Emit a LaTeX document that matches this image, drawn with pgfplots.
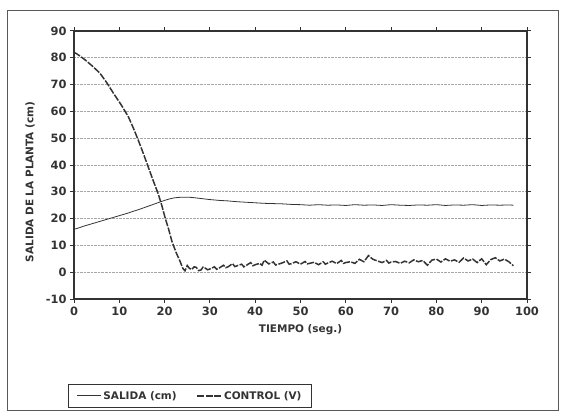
\documentclass[border=0pt]{standalone}
\usepackage{fontspec}
\setmainfont{DejaVu Sans}
\usepackage{pgfplots}
\pgfplotsset{compat=1.18}

\definecolor{ink}{HTML}{333333}

\pgfplotstableread{
t y
0 16.0
1 16.5
2 17.1
3 17.6
4 18.1
5 18.6
6 19.1
7 19.6
8 20.1
9 20.6
10 21.1
11 21.6
12 22.1
13 22.7
14 23.2
15 23.8
16 24.4
17 25.0
18 25.6
19 26.2
20 26.8
21 27.3
22 27.7
23 27.9
24 28.0
25 28.0
26 27.9
27 27.7
28 27.5
29 27.3
30 27.1
32 26.8
34 26.6
36 26.3
38 26.1
40 25.9
42 25.7
44 25.6
46 25.5
48 25.3
50 25.2
52 25.0
54 25.2
56 25.0
58 25.1
60 24.9
62 25.2
64 25.0
66 25.1
68 24.9
70 25.2
72 25.0
74 24.9
76 25.1
78 25.0
80 25.2
82 24.9
84 25.1
86 25.0
88 25.2
90 24.9
92 25.1
94 25.0
96 25.1
97 25.0
}\salida

\pgfplotstableread{
t y
0 82.0
0.5 81.6
1.2 80.8
2.4 79.3
4 77.0
5.7 74.3
7.2 70.8
8.7 66.8
10.4 62.5
12 58.0
13.1 53.8
14.2 49.2
15.3 44.3
16.4 39.2
17.5 34.1
18.6 29.2
19.4 24.8
20.1 20.4
20.9 16.0
21.6 11.6
22.5 7.5
23.4 4.1
24 1.5
24.5 0.5
25 2.5
25.5 1.4
26 1.0
26.5 2.0
27 1.8
27.5 0.6
28 0.8
28.5 1.9
29 1.5
29.5 0.9
30 1.2
31 2.0
31.5 1.1
32 1.5
33 2.6
33.5 1.7
34 2.0
35 3.2
35.5 2.1
36 2.4
37 3.0
37.5 2.0
38 2.5
39 3.6
39.5 2.4
40 2.8
41 3.3
41.5 2.6
42 4.5
43 3.1
44 3.8
44.5 2.7
45 2.9
46 3.5
47 4.2
47.5 3.0
48 3.2
49 3.9
50 3.0
51 4.0
51.5 3.1
52 3.3
53 3.7
54 2.8
55 3.9
55.5 3.0
56 3.4
57 4.1
58 3.2
59 4.4
59.5 3.3
60 3.6
61 3.9
62 3.3
63 4.8
64 3.9
65 6.2
66 4.8
67 4.2
68 3.6
69 4.4
69.5 3.4
70 3.8
71 4.0
72 3.3
73 4.1
74 3.5
75 4.6
76 3.9
77 4.4
78 2.6
79 4.5
80 4.9
81 3.8
82 5.0
83 4.1
84 4.6
85 3.7
86 5.3
87 4.2
88 4.9
89 3.6
90 5.0
91 2.8
92 4.7
93 5.4
94 4.2
95 4.9
96 3.9
97 2.4
}\control

\begin{document}
\begin{tikzpicture}
\useasboundingbox (0,0) rectangle (567bp,-412bp);
\draw[gray!70!black, line width=0.9pt] (7bp,-10bp) rectangle (558bp,-410bp);
\begin{axis}[
  at={(74bp,-299bp)}, anchor=south west,
  scale only axis, width=453bp, height=268bp,
  xmin=0, xmax=100, ymin=-10, ymax=90,
  xtick={0,10,...,100}, ytick={-10,0,...,90},
  tick align=outside, major tick length=4bp,
  tick style={ink, line width=1pt},
  axis line style={ink, line width=1.3pt},
  ymajorgrids, grid style={densely dotted, gray!70, line width=0.9pt},
  /pgf/number format/assume math mode=true,
  ticklabel style={font=\fontsize{11.5}{13}\selectfont\bfseries, text=ink},
  xlabel={TIEMPO (seg.)}, ylabel={SALIDA DE LA PLANTA (cm)},
  xlabel style={at={(axis description cs:0.5,-0.116)}, anchor=center,
    font=\fontsize{10.5}{12}\selectfont\bfseries, text=ink},
  ylabel style={at={(axis description cs:-0.097,0.437)}, anchor=center, rotate=0,
    font=\fontsize{10.5}{12}\selectfont\bfseries, text=ink},
  legend style={at={(axis description cs:-0.013,-0.407)}, anchor=south west,
    draw=ink, line width=1pt, legend columns=2,
    font=\fontsize{10.5}{12}\selectfont\bfseries, text=ink,
    inner xsep=8bp, inner ysep=5bp,
    /tikz/every even column/.append style={column sep=18bp}},
  legend image code/.code={\draw[#1] (0bp,0bp) -- (24bp,0bp);},
]
\addplot[ink, line width=0.8pt] table[x=t,y=y] {\salida};
\addlegendentry{SALIDA (cm)}
\addplot[ink, line width=1.5pt, dash pattern=on 7pt off 1.5pt] table[x=t,y=y] {\control};
\addlegendentry{CONTROL (V)}
\end{axis}
\end{tikzpicture}
\end{document}
